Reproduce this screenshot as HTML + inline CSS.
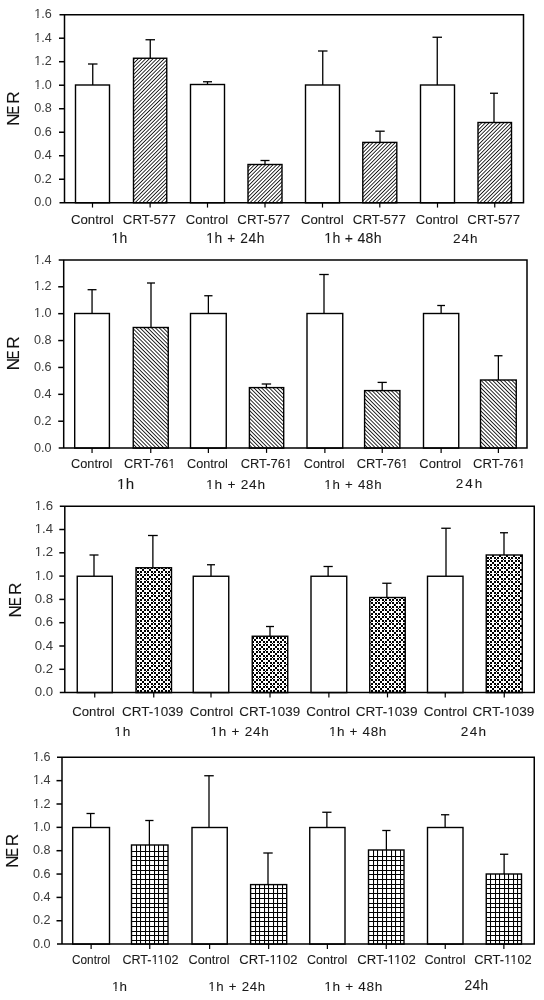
<!DOCTYPE html>
<html><head><meta charset="utf-8"><style>
html,body{margin:0;padding:0;background:#fff;width:544px;height:1000px;overflow:hidden}
svg{display:block;will-change:transform;font-family:"Liberation Sans", sans-serif}
</style></head><body>
<svg width="544" height="1000" viewBox="0 0 544 1000">
<defs>
<pattern id="p1" patternUnits="userSpaceOnUse" width="2.62" height="2.62" patternTransform="rotate(45)">
<rect x="0" y="0" width="0.8" height="2.62" fill="#000"/></pattern>
<pattern id="p2" patternUnits="userSpaceOnUse" width="2.72" height="2.72" patternTransform="rotate(-45)">
<rect x="0" y="0" width="0.82" height="2.72" fill="#000"/></pattern>
<pattern id="p3" patternUnits="userSpaceOnUse" width="7" height="7"><g fill="#000"><rect x="0" y="0" width="2" height="2"/><rect x="0" y="4" width="2" height="2"/><rect x="2" y="2" width="2" height="2"/><rect x="4" y="0" width="2" height="2"/><rect x="4" y="4" width="2" height="2"/><rect x="6" y="6" width="1" height="1"/></g></pattern>
<pattern id="p4" patternUnits="userSpaceOnUse" width="4.5" height="4.6">
<rect x="0" y="0" width="1.0" height="4.6" fill="#000"/><rect x="0" y="0" width="4.5" height="1.0" fill="#000"/></pattern>
</defs>
<rect width="544" height="1000" fill="#fff"/>
<g><line x1="92.75" y1="85" x2="92.75" y2="64" stroke="#000" stroke-width="1.3"/>
<line x1="88" y1="64" x2="97.5" y2="64" stroke="#000" stroke-width="1.3"/>
<line x1="150.25" y1="58.25" x2="150.25" y2="39.75" stroke="#000" stroke-width="1.3"/>
<line x1="145.5" y1="39.75" x2="155" y2="39.75" stroke="#000" stroke-width="1.3"/>
<line x1="207.5" y1="84.5" x2="207.5" y2="81.75" stroke="#000" stroke-width="1.3"/>
<line x1="203" y1="81.75" x2="212" y2="81.75" stroke="#000" stroke-width="1.3"/>
<line x1="265" y1="164.5" x2="265" y2="160.5" stroke="#000" stroke-width="1.3"/>
<line x1="260.5" y1="160.5" x2="269.5" y2="160.5" stroke="#000" stroke-width="1.3"/>
<line x1="322.75" y1="85" x2="322.75" y2="51" stroke="#000" stroke-width="1.3"/>
<line x1="318" y1="51" x2="327.5" y2="51" stroke="#000" stroke-width="1.3"/>
<line x1="380" y1="142.4" x2="380" y2="131.2" stroke="#000" stroke-width="1.3"/>
<line x1="375.3" y1="131.2" x2="384.7" y2="131.2" stroke="#000" stroke-width="1.3"/>
<line x1="437.25" y1="85" x2="437.25" y2="37.25" stroke="#000" stroke-width="1.3"/>
<line x1="432.5" y1="37.25" x2="442" y2="37.25" stroke="#000" stroke-width="1.3"/>
<line x1="494" y1="122.5" x2="494" y2="93.25" stroke="#000" stroke-width="1.3"/>
<line x1="490" y1="93.25" x2="498" y2="93.25" stroke="#000" stroke-width="1.3"/>
<rect x="75.5" y="85" width="34" height="117.75" fill="#fff" stroke="#000" stroke-width="1.4"/>
<line x1="92.5" y1="202.75" x2="92.5" y2="207.55" stroke="#000" stroke-width="1.2"/>
<rect x="133.5" y="58.25" width="33.25" height="144.5" fill="url(#p1)" stroke="#000" stroke-width="1.4"/>
<line x1="150.12" y1="202.75" x2="150.12" y2="207.55" stroke="#000" stroke-width="1.2"/>
<rect x="190.5" y="84.5" width="34" height="118.25" fill="#fff" stroke="#000" stroke-width="1.4"/>
<line x1="207.5" y1="202.75" x2="207.5" y2="207.55" stroke="#000" stroke-width="1.2"/>
<rect x="248" y="164.5" width="34" height="38.25" fill="url(#p1)" stroke="#000" stroke-width="1.4"/>
<line x1="265" y1="202.75" x2="265" y2="207.55" stroke="#000" stroke-width="1.2"/>
<rect x="305.5" y="85" width="34" height="117.75" fill="#fff" stroke="#000" stroke-width="1.4"/>
<line x1="322.5" y1="202.75" x2="322.5" y2="207.55" stroke="#000" stroke-width="1.2"/>
<rect x="362.8" y="142.4" width="34" height="60.35" fill="url(#p1)" stroke="#000" stroke-width="1.4"/>
<line x1="379.8" y1="202.75" x2="379.8" y2="207.55" stroke="#000" stroke-width="1.2"/>
<rect x="420.5" y="85" width="34" height="117.75" fill="#fff" stroke="#000" stroke-width="1.4"/>
<line x1="437.5" y1="202.75" x2="437.5" y2="207.55" stroke="#000" stroke-width="1.2"/>
<rect x="478" y="122.5" width="33.5" height="80.25" fill="url(#p1)" stroke="#000" stroke-width="1.4"/>
<line x1="494.75" y1="202.75" x2="494.75" y2="207.55" stroke="#000" stroke-width="1.2"/>
<path d="M59.5 14.7H523.5V202.75H59.5" fill="none" stroke="#000" stroke-width="1.5"/>
<line x1="64.5" y1="14.7" x2="64.5" y2="202.75" stroke="#000" stroke-width="1.5"/>
<text x="51.7" y="206.35" text-anchor="end" font-size="12.6" fill="#3a3a3a">0.0</text>
<line x1="59" y1="179.24" x2="64.5" y2="179.24" stroke="#000" stroke-width="1.5"/>
<text x="51.7" y="182.84" text-anchor="end" font-size="12.6" fill="#3a3a3a">0.2</text>
<line x1="59" y1="155.74" x2="64.5" y2="155.74" stroke="#000" stroke-width="1.5"/>
<text x="51.7" y="159.34" text-anchor="end" font-size="12.6" fill="#3a3a3a">0.4</text>
<line x1="59" y1="132.23" x2="64.5" y2="132.23" stroke="#000" stroke-width="1.5"/>
<text x="51.7" y="135.83" text-anchor="end" font-size="12.6" fill="#3a3a3a">0.6</text>
<line x1="59" y1="108.72" x2="64.5" y2="108.72" stroke="#000" stroke-width="1.5"/>
<text x="51.7" y="112.32" text-anchor="end" font-size="12.6" fill="#3a3a3a">0.8</text>
<line x1="59" y1="85.22" x2="64.5" y2="85.22" stroke="#000" stroke-width="1.5"/>
<text x="51.7" y="88.82" text-anchor="end" font-size="12.6" fill="#3a3a3a">1.0</text>
<line x1="59" y1="61.71" x2="64.5" y2="61.71" stroke="#000" stroke-width="1.5"/>
<text x="51.7" y="65.31" text-anchor="end" font-size="12.6" fill="#3a3a3a">1.2</text>
<line x1="59" y1="38.21" x2="64.5" y2="38.21" stroke="#000" stroke-width="1.5"/>
<text x="51.7" y="41.81" text-anchor="end" font-size="12.6" fill="#3a3a3a">1.4</text>
<text x="51.7" y="18.3" text-anchor="end" font-size="12.6" fill="#3a3a3a">1.6</text>
<text transform="translate(18.93 119.75) rotate(-90) scale(1.1 1)" text-anchor="middle" font-size="16" fill="#111" stroke="#111" stroke-width="0.1">N</text>
<text transform="translate(18.93 110.15) rotate(-90) scale(0.82 1)" text-anchor="middle" font-size="16" fill="#111" stroke="#111" stroke-width="0.1">E</text>
<text transform="translate(18.93 97.5) rotate(-90) scale(1.07 1)" text-anchor="middle" font-size="16" fill="#111" stroke="#111" stroke-width="0.1">R</text>
<text x="70.89" y="224" font-size="13.4" textLength="42.78" lengthAdjust="spacingAndGlyphs" fill="#1a1a1a" stroke="#1a1a1a" stroke-width="0.08">Control</text>
<text x="122.86" y="224" font-size="13.4" textLength="52.94" lengthAdjust="spacingAndGlyphs" fill="#1a1a1a" stroke="#1a1a1a" stroke-width="0.08">CRT-577</text>
<text x="185.73" y="224" font-size="13.4" textLength="42.4" lengthAdjust="spacingAndGlyphs" fill="#1a1a1a" stroke="#1a1a1a" stroke-width="0.08">Control</text>
<text x="237.34" y="224" font-size="13.4" textLength="52.68" lengthAdjust="spacingAndGlyphs" fill="#1a1a1a" stroke="#1a1a1a" stroke-width="0.08">CRT-577</text>
<text x="300.89" y="224" font-size="13.4" textLength="42.78" lengthAdjust="spacingAndGlyphs" fill="#1a1a1a" stroke="#1a1a1a" stroke-width="0.08">Control</text>
<text x="352.86" y="224" font-size="13.4" textLength="52.94" lengthAdjust="spacingAndGlyphs" fill="#1a1a1a" stroke="#1a1a1a" stroke-width="0.08">CRT-577</text>
<text x="415.73" y="224" font-size="13.4" textLength="42.4" lengthAdjust="spacingAndGlyphs" fill="#1a1a1a" stroke="#1a1a1a" stroke-width="0.08">Control</text>
<text x="467.34" y="224" font-size="13.4" textLength="52.68" lengthAdjust="spacingAndGlyphs" fill="#1a1a1a" stroke="#1a1a1a" stroke-width="0.08">CRT-577</text>
<text x="111.59" y="243" font-size="13.95" textLength="15.61" lengthAdjust="spacing" fill="#1a1a1a" stroke="#1a1a1a" stroke-width="0.08">1h</text>
<text x="206.3" y="243" font-size="13.8" textLength="58.17" lengthAdjust="spacing" fill="#1a1a1a" stroke="#1a1a1a" stroke-width="0.08">1h + 24h</text>
<text x="324.26" y="243" font-size="14.1" textLength="57.29" lengthAdjust="spacing" fill="#1a1a1a" stroke="#1a1a1a" stroke-width="0.08">1h + 48h</text>
<text x="453.1" y="243" font-size="13.5" textLength="24.53" lengthAdjust="spacing" fill="#1a1a1a" stroke="#1a1a1a" stroke-width="0.08">24h</text></g>
<g><line x1="92.05" y1="313.5" x2="92.05" y2="289.7" stroke="#000" stroke-width="1.3"/>
<line x1="87.6" y1="289.7" x2="96.5" y2="289.7" stroke="#000" stroke-width="1.3"/>
<line x1="151" y1="327.5" x2="151" y2="283" stroke="#000" stroke-width="1.3"/>
<line x1="147" y1="283" x2="155" y2="283" stroke="#000" stroke-width="1.3"/>
<line x1="208.38" y1="313.5" x2="208.38" y2="295.75" stroke="#000" stroke-width="1.3"/>
<line x1="204.25" y1="295.75" x2="212.5" y2="295.75" stroke="#000" stroke-width="1.3"/>
<line x1="266.4" y1="387.6" x2="266.4" y2="384" stroke="#000" stroke-width="1.3"/>
<line x1="261.7" y1="384" x2="271.1" y2="384" stroke="#000" stroke-width="1.3"/>
<line x1="324" y1="313.5" x2="324" y2="274.5" stroke="#000" stroke-width="1.3"/>
<line x1="319.25" y1="274.5" x2="328.75" y2="274.5" stroke="#000" stroke-width="1.3"/>
<line x1="382.2" y1="390.6" x2="382.2" y2="382.4" stroke="#000" stroke-width="1.3"/>
<line x1="377.6" y1="382.4" x2="386.8" y2="382.4" stroke="#000" stroke-width="1.3"/>
<line x1="441.12" y1="313.5" x2="441.12" y2="305.5" stroke="#000" stroke-width="1.3"/>
<line x1="437.25" y1="305.5" x2="445" y2="305.5" stroke="#000" stroke-width="1.3"/>
<line x1="498.38" y1="380" x2="498.38" y2="355.75" stroke="#000" stroke-width="1.3"/>
<line x1="494.25" y1="355.75" x2="502.5" y2="355.75" stroke="#000" stroke-width="1.3"/>
<rect x="74.7" y="313.5" width="34.7" height="134.6" fill="#fff" stroke="#000" stroke-width="1.4"/>
<line x1="92.05" y1="448.1" x2="92.05" y2="452.9" stroke="#000" stroke-width="1.2"/>
<rect x="133.25" y="327.5" width="35" height="120.6" fill="url(#p2)" stroke="#000" stroke-width="1.4"/>
<line x1="150.75" y1="448.1" x2="150.75" y2="452.9" stroke="#000" stroke-width="1.2"/>
<rect x="190.5" y="313.5" width="35.75" height="134.6" fill="#fff" stroke="#000" stroke-width="1.4"/>
<line x1="208.38" y1="448.1" x2="208.38" y2="452.9" stroke="#000" stroke-width="1.2"/>
<rect x="249.4" y="387.6" width="34.3" height="60.5" fill="url(#p2)" stroke="#000" stroke-width="1.4"/>
<line x1="266.55" y1="448.1" x2="266.55" y2="452.9" stroke="#000" stroke-width="1.2"/>
<rect x="307" y="313.5" width="35.75" height="134.6" fill="#fff" stroke="#000" stroke-width="1.4"/>
<line x1="324.88" y1="448.1" x2="324.88" y2="452.9" stroke="#000" stroke-width="1.2"/>
<rect x="364.6" y="390.6" width="35.3" height="57.5" fill="url(#p2)" stroke="#000" stroke-width="1.4"/>
<line x1="382.25" y1="448.1" x2="382.25" y2="452.9" stroke="#000" stroke-width="1.2"/>
<rect x="423.5" y="313.5" width="35.25" height="134.6" fill="#fff" stroke="#000" stroke-width="1.4"/>
<line x1="441.12" y1="448.1" x2="441.12" y2="452.9" stroke="#000" stroke-width="1.2"/>
<rect x="480.5" y="380" width="35.75" height="68.1" fill="url(#p2)" stroke="#000" stroke-width="1.4"/>
<line x1="498.38" y1="448.1" x2="498.38" y2="452.9" stroke="#000" stroke-width="1.2"/>
<path d="M58.7 259.9H527V448.1H58.7" fill="none" stroke="#000" stroke-width="1.5"/>
<line x1="63.7" y1="259.9" x2="63.7" y2="448.1" stroke="#000" stroke-width="1.5"/>
<text x="51.4" y="451.7" text-anchor="end" font-size="12.6" fill="#3a3a3a">0.0</text>
<line x1="58.2" y1="421.21" x2="63.7" y2="421.21" stroke="#000" stroke-width="1.5"/>
<text x="51.4" y="424.81" text-anchor="end" font-size="12.6" fill="#3a3a3a">0.2</text>
<line x1="58.2" y1="394.33" x2="63.7" y2="394.33" stroke="#000" stroke-width="1.5"/>
<text x="51.4" y="397.93" text-anchor="end" font-size="12.6" fill="#3a3a3a">0.4</text>
<line x1="58.2" y1="367.44" x2="63.7" y2="367.44" stroke="#000" stroke-width="1.5"/>
<text x="51.4" y="371.04" text-anchor="end" font-size="12.6" fill="#3a3a3a">0.6</text>
<line x1="58.2" y1="340.56" x2="63.7" y2="340.56" stroke="#000" stroke-width="1.5"/>
<text x="51.4" y="344.16" text-anchor="end" font-size="12.6" fill="#3a3a3a">0.8</text>
<line x1="58.2" y1="313.67" x2="63.7" y2="313.67" stroke="#000" stroke-width="1.5"/>
<text x="51.4" y="317.27" text-anchor="end" font-size="12.6" fill="#3a3a3a">1.0</text>
<line x1="58.2" y1="286.79" x2="63.7" y2="286.79" stroke="#000" stroke-width="1.5"/>
<text x="51.4" y="290.39" text-anchor="end" font-size="12.6" fill="#3a3a3a">1.2</text>
<text x="51.4" y="263.5" text-anchor="end" font-size="12.6" fill="#3a3a3a">1.4</text>
<text transform="translate(19.15 364.11) rotate(-90) scale(1.1 1)" text-anchor="middle" font-size="16" fill="#111" stroke="#111" stroke-width="0.1">N</text>
<text transform="translate(19.15 354.8) rotate(-90) scale(0.82 1)" text-anchor="middle" font-size="16" fill="#111" stroke="#111" stroke-width="0.1">E</text>
<text transform="translate(19.15 342.54) rotate(-90) scale(1.07 1)" text-anchor="middle" font-size="16" fill="#111" stroke="#111" stroke-width="0.1">R</text>
<text x="71.05" y="468" font-size="13.4" textLength="41.18" lengthAdjust="spacingAndGlyphs" fill="#1a1a1a" stroke="#1a1a1a" stroke-width="0.08">Control</text>
<text x="124.04" y="468" font-size="13.4" textLength="51.47" lengthAdjust="spacingAndGlyphs" fill="#1a1a1a" stroke="#1a1a1a" stroke-width="0.08">CRT-761</text>
<text x="187.11" y="468" font-size="13.4" textLength="40.79" lengthAdjust="spacingAndGlyphs" fill="#1a1a1a" stroke="#1a1a1a" stroke-width="0.08">Control</text>
<text x="240.71" y="468" font-size="13.4" textLength="51.44" lengthAdjust="spacingAndGlyphs" fill="#1a1a1a" stroke="#1a1a1a" stroke-width="0.08">CRT-761</text>
<text x="303.79" y="468" font-size="13.4" textLength="40.75" lengthAdjust="spacingAndGlyphs" fill="#1a1a1a" stroke="#1a1a1a" stroke-width="0.08">Control</text>
<text x="356.72" y="468" font-size="13.4" textLength="51.58" lengthAdjust="spacingAndGlyphs" fill="#1a1a1a" stroke="#1a1a1a" stroke-width="0.08">CRT-761</text>
<text x="419.35" y="468" font-size="13.4" textLength="41.91" lengthAdjust="spacingAndGlyphs" fill="#1a1a1a" stroke="#1a1a1a" stroke-width="0.08">Control</text>
<text x="472.97" y="468" font-size="13.4" textLength="52.23" lengthAdjust="spacingAndGlyphs" fill="#1a1a1a" stroke="#1a1a1a" stroke-width="0.08">CRT-761</text>
<text x="116.9" y="489" font-size="15.1" textLength="17.35" lengthAdjust="spacing" fill="#1a1a1a" stroke="#1a1a1a" stroke-width="0.08">1h</text>
<text x="206.07" y="489" font-size="13.7" textLength="59.02" lengthAdjust="spacing" fill="#1a1a1a" stroke="#1a1a1a" stroke-width="0.08">1h + 24h</text>
<text x="324.24" y="489" font-size="13.25" textLength="57.32" lengthAdjust="spacing" fill="#1a1a1a" stroke="#1a1a1a" stroke-width="0.08">1h + 48h</text>
<text x="455.87" y="488" font-size="13.5" textLength="26.38" lengthAdjust="spacing" fill="#1a1a1a" stroke="#1a1a1a" stroke-width="0.08">24h</text></g>
<g><line x1="94" y1="576.25" x2="94" y2="555" stroke="#000" stroke-width="1.3"/>
<line x1="89.5" y1="555" x2="98.5" y2="555" stroke="#000" stroke-width="1.3"/>
<line x1="152.88" y1="567.75" x2="152.88" y2="535.5" stroke="#000" stroke-width="1.3"/>
<line x1="148" y1="535.5" x2="157.75" y2="535.5" stroke="#000" stroke-width="1.3"/>
<line x1="211" y1="576.25" x2="211" y2="564.75" stroke="#000" stroke-width="1.3"/>
<line x1="207" y1="564.75" x2="215" y2="564.75" stroke="#000" stroke-width="1.3"/>
<line x1="270" y1="636.25" x2="270" y2="626.5" stroke="#000" stroke-width="1.3"/>
<line x1="266" y1="626.5" x2="274" y2="626.5" stroke="#000" stroke-width="1.3"/>
<line x1="328.12" y1="576.25" x2="328.12" y2="566.5" stroke="#000" stroke-width="1.3"/>
<line x1="323.5" y1="566.5" x2="332.75" y2="566.5" stroke="#000" stroke-width="1.3"/>
<line x1="386.88" y1="597.5" x2="386.88" y2="583.25" stroke="#000" stroke-width="1.3"/>
<line x1="382.25" y1="583.25" x2="391.5" y2="583.25" stroke="#000" stroke-width="1.3"/>
<line x1="446" y1="576.25" x2="446" y2="528.25" stroke="#000" stroke-width="1.3"/>
<line x1="441.25" y1="528.25" x2="450.75" y2="528.25" stroke="#000" stroke-width="1.3"/>
<line x1="504" y1="555" x2="504" y2="532.75" stroke="#000" stroke-width="1.3"/>
<line x1="500" y1="532.75" x2="508" y2="532.75" stroke="#000" stroke-width="1.3"/>
<rect x="77.25" y="576.25" width="35" height="116.35" fill="#fff" stroke="#000" stroke-width="1.4"/>
<line x1="94.75" y1="692.6" x2="94.75" y2="697.4" stroke="#000" stroke-width="1.2"/>
<rect x="136" y="567.75" width="35.5" height="124.85" fill="url(#p3)" stroke="#000" stroke-width="1.4"/>
<line x1="153.75" y1="692.6" x2="153.75" y2="697.4" stroke="#000" stroke-width="1.2"/>
<rect x="193.25" y="576.25" width="35.5" height="116.35" fill="#fff" stroke="#000" stroke-width="1.4"/>
<line x1="211" y1="692.6" x2="211" y2="697.4" stroke="#000" stroke-width="1.2"/>
<rect x="252.25" y="636.25" width="35.5" height="56.35" fill="url(#p3)" stroke="#000" stroke-width="1.4"/>
<line x1="270" y1="692.6" x2="270" y2="697.4" stroke="#000" stroke-width="1.2"/>
<rect x="311" y="576.25" width="35.75" height="116.35" fill="#fff" stroke="#000" stroke-width="1.4"/>
<line x1="328.88" y1="692.6" x2="328.88" y2="697.4" stroke="#000" stroke-width="1.2"/>
<rect x="369.75" y="597.5" width="35.5" height="95.1" fill="url(#p3)" stroke="#000" stroke-width="1.4"/>
<line x1="387.5" y1="692.6" x2="387.5" y2="697.4" stroke="#000" stroke-width="1.2"/>
<rect x="427.5" y="576.25" width="35.5" height="116.35" fill="#fff" stroke="#000" stroke-width="1.4"/>
<line x1="445.25" y1="692.6" x2="445.25" y2="697.4" stroke="#000" stroke-width="1.2"/>
<rect x="486.25" y="555" width="36" height="137.6" fill="url(#p3)" stroke="#000" stroke-width="1.4"/>
<line x1="504.25" y1="692.6" x2="504.25" y2="697.4" stroke="#000" stroke-width="1.2"/>
<path d="M59.8 506.2H534.25V692.6H59.8" fill="none" stroke="#000" stroke-width="1.5"/>
<line x1="64.8" y1="506.2" x2="64.8" y2="692.6" stroke="#000" stroke-width="1.5"/>
<text x="53" y="696.2" text-anchor="end" font-size="13.2" fill="#3a3a3a">0.0</text>
<line x1="59.3" y1="669.3" x2="64.8" y2="669.3" stroke="#000" stroke-width="1.5"/>
<text x="53" y="672.9" text-anchor="end" font-size="13.2" fill="#3a3a3a">0.2</text>
<line x1="59.3" y1="646" x2="64.8" y2="646" stroke="#000" stroke-width="1.5"/>
<text x="53" y="649.6" text-anchor="end" font-size="13.2" fill="#3a3a3a">0.4</text>
<line x1="59.3" y1="622.7" x2="64.8" y2="622.7" stroke="#000" stroke-width="1.5"/>
<text x="53" y="626.3" text-anchor="end" font-size="13.2" fill="#3a3a3a">0.6</text>
<line x1="59.3" y1="599.4" x2="64.8" y2="599.4" stroke="#000" stroke-width="1.5"/>
<text x="53" y="603" text-anchor="end" font-size="13.2" fill="#3a3a3a">0.8</text>
<line x1="59.3" y1="576.1" x2="64.8" y2="576.1" stroke="#000" stroke-width="1.5"/>
<text x="53" y="579.7" text-anchor="end" font-size="13.2" fill="#3a3a3a">1.0</text>
<line x1="59.3" y1="552.8" x2="64.8" y2="552.8" stroke="#000" stroke-width="1.5"/>
<text x="53" y="556.4" text-anchor="end" font-size="13.2" fill="#3a3a3a">1.2</text>
<line x1="59.3" y1="529.5" x2="64.8" y2="529.5" stroke="#000" stroke-width="1.5"/>
<text x="53" y="533.1" text-anchor="end" font-size="13.2" fill="#3a3a3a">1.4</text>
<text x="53" y="509.8" text-anchor="end" font-size="13.2" fill="#3a3a3a">1.6</text>
<text transform="translate(20.55 611.29) rotate(-90) scale(1.1 1)" text-anchor="middle" font-size="16" fill="#111" stroke="#111" stroke-width="0.1">N</text>
<text transform="translate(20.55 601.57) rotate(-90) scale(0.82 1)" text-anchor="middle" font-size="16" fill="#111" stroke="#111" stroke-width="0.1">E</text>
<text transform="translate(20.55 588.76) rotate(-90) scale(1.07 1)" text-anchor="middle" font-size="16" fill="#111" stroke="#111" stroke-width="0.1">R</text>
<text x="72.27" y="716" font-size="13.7" textLength="42.46" lengthAdjust="spacingAndGlyphs" fill="#1a1a1a" stroke="#1a1a1a" stroke-width="0.08">Control</text>
<text x="121.93" y="716" font-size="13.7" textLength="61.25" lengthAdjust="spacingAndGlyphs" fill="#1a1a1a" stroke="#1a1a1a" stroke-width="0.08">CRT-1039</text>
<text x="189.78" y="716" font-size="13.7" textLength="43.48" lengthAdjust="spacingAndGlyphs" fill="#1a1a1a" stroke="#1a1a1a" stroke-width="0.08">Control</text>
<text x="239.33" y="716" font-size="13.7" textLength="60.83" lengthAdjust="spacingAndGlyphs" fill="#1a1a1a" stroke="#1a1a1a" stroke-width="0.08">CRT-1039</text>
<text x="306.35" y="716" font-size="13.7" textLength="43.54" lengthAdjust="spacingAndGlyphs" fill="#1a1a1a" stroke="#1a1a1a" stroke-width="0.08">Control</text>
<text x="355.72" y="716" font-size="13.7" textLength="61.75" lengthAdjust="spacingAndGlyphs" fill="#1a1a1a" stroke="#1a1a1a" stroke-width="0.08">CRT-1039</text>
<text x="423.73" y="716" font-size="13.7" textLength="43.6" lengthAdjust="spacingAndGlyphs" fill="#1a1a1a" stroke="#1a1a1a" stroke-width="0.08">Control</text>
<text x="472.47" y="716" font-size="13.7" textLength="61.83" lengthAdjust="spacingAndGlyphs" fill="#1a1a1a" stroke="#1a1a1a" stroke-width="0.08">CRT-1039</text>
<text x="114.31" y="736" font-size="13.65" textLength="16.02" lengthAdjust="spacing" fill="#1a1a1a" stroke="#1a1a1a" stroke-width="0.08">1h</text>
<text x="210.51" y="736" font-size="13.5" textLength="58.36" lengthAdjust="spacing" fill="#1a1a1a" stroke="#1a1a1a" stroke-width="0.08">1h + 24h</text>
<text x="328.88" y="736" font-size="13.5" textLength="57.43" lengthAdjust="spacing" fill="#1a1a1a" stroke="#1a1a1a" stroke-width="0.08">1h + 48h</text>
<text x="460.77" y="736" font-size="13.6" textLength="25.3" lengthAdjust="spacing" fill="#1a1a1a" stroke="#1a1a1a" stroke-width="0.08">24h</text></g>
<g><line x1="90.62" y1="827.5" x2="90.62" y2="813.5" stroke="#000" stroke-width="1.3"/>
<line x1="86.5" y1="813.5" x2="94.75" y2="813.5" stroke="#000" stroke-width="1.3"/>
<line x1="149.38" y1="845" x2="149.38" y2="820.5" stroke="#000" stroke-width="1.3"/>
<line x1="145.25" y1="820.5" x2="153.5" y2="820.5" stroke="#000" stroke-width="1.3"/>
<line x1="209" y1="827.5" x2="209" y2="775.75" stroke="#000" stroke-width="1.3"/>
<line x1="204.25" y1="775.75" x2="213.75" y2="775.75" stroke="#000" stroke-width="1.3"/>
<line x1="268" y1="884.6" x2="268" y2="853" stroke="#000" stroke-width="1.3"/>
<line x1="263.3" y1="853" x2="272.7" y2="853" stroke="#000" stroke-width="1.3"/>
<line x1="326.88" y1="827.5" x2="326.88" y2="812.25" stroke="#000" stroke-width="1.3"/>
<line x1="322.25" y1="812.25" x2="331.5" y2="812.25" stroke="#000" stroke-width="1.3"/>
<line x1="386.38" y1="850" x2="386.38" y2="830.5" stroke="#000" stroke-width="1.3"/>
<line x1="382.25" y1="830.5" x2="390.5" y2="830.5" stroke="#000" stroke-width="1.3"/>
<line x1="445.12" y1="827.5" x2="445.12" y2="814.75" stroke="#000" stroke-width="1.3"/>
<line x1="441" y1="814.75" x2="449.25" y2="814.75" stroke="#000" stroke-width="1.3"/>
<line x1="504.12" y1="874" x2="504.12" y2="854.25" stroke="#000" stroke-width="1.3"/>
<line x1="500" y1="854.25" x2="508.25" y2="854.25" stroke="#000" stroke-width="1.3"/>
<rect x="72.75" y="827.5" width="36.75" height="116.6" fill="#fff" stroke="#000" stroke-width="1.4"/>
<line x1="91.12" y1="944.1" x2="91.12" y2="948.9" stroke="#000" stroke-width="1.2"/>
<rect x="131.5" y="845" width="36.5" height="99.1" fill="#fff"/>
<path d="M136 845h1.05v99.1h-1.05zM140 845h1.05v99.1h-1.05zM145 845h1.05v99.1h-1.05zM149 845h1.05v99.1h-1.05zM154 845h1.05v99.1h-1.05zM158 845h1.05v99.1h-1.05zM163 845h1.05v99.1h-1.05zM131.5 851h36.5v1.05h-36.5zM131.5 856h36.5v1.05h-36.5zM131.5 860h36.5v1.05h-36.5zM131.5 865h36.5v1.05h-36.5zM131.5 870h36.5v1.05h-36.5zM131.5 874h36.5v1.05h-36.5zM131.5 879h36.5v1.05h-36.5zM131.5 884h36.5v1.05h-36.5zM131.5 888h36.5v1.05h-36.5zM131.5 893h36.5v1.05h-36.5zM131.5 898h36.5v1.05h-36.5zM131.5 903h36.5v1.05h-36.5zM131.5 907h36.5v1.05h-36.5zM131.5 912h36.5v1.05h-36.5zM131.5 917h36.5v1.05h-36.5zM131.5 921h36.5v1.05h-36.5zM131.5 926h36.5v1.05h-36.5zM131.5 931h36.5v1.05h-36.5zM131.5 935h36.5v1.05h-36.5zM131.5 940h36.5v1.05h-36.5z" fill="#000"/>
<rect x="131.5" y="845" width="36.5" height="99.1" fill="none" stroke="#000" stroke-width="1.4"/>
<line x1="149.75" y1="944.1" x2="149.75" y2="948.9" stroke="#000" stroke-width="1.2"/>
<rect x="192" y="827.5" width="35.25" height="116.6" fill="#fff" stroke="#000" stroke-width="1.4"/>
<line x1="209.62" y1="944.1" x2="209.62" y2="948.9" stroke="#000" stroke-width="1.2"/>
<rect x="250.6" y="884.6" width="36.1" height="59.5" fill="#fff"/>
<path d="M255 884.6h1.05v59.5h-1.05zM259 884.6h1.05v59.5h-1.05zM264 884.6h1.05v59.5h-1.05zM268 884.6h1.05v59.5h-1.05zM273 884.6h1.05v59.5h-1.05zM277 884.6h1.05v59.5h-1.05zM282 884.6h1.05v59.5h-1.05zM250.6 888h36.1v1.05h-36.1zM250.6 893h36.1v1.05h-36.1zM250.6 898h36.1v1.05h-36.1zM250.6 903h36.1v1.05h-36.1zM250.6 907h36.1v1.05h-36.1zM250.6 912h36.1v1.05h-36.1zM250.6 917h36.1v1.05h-36.1zM250.6 921h36.1v1.05h-36.1zM250.6 926h36.1v1.05h-36.1zM250.6 931h36.1v1.05h-36.1zM250.6 935h36.1v1.05h-36.1zM250.6 940h36.1v1.05h-36.1z" fill="#000"/>
<rect x="250.6" y="884.6" width="36.1" height="59.5" fill="none" stroke="#000" stroke-width="1.4"/>
<line x1="268.65" y1="944.1" x2="268.65" y2="948.9" stroke="#000" stroke-width="1.2"/>
<rect x="309.75" y="827.5" width="35.25" height="116.6" fill="#fff" stroke="#000" stroke-width="1.4"/>
<line x1="327.38" y1="944.1" x2="327.38" y2="948.9" stroke="#000" stroke-width="1.2"/>
<rect x="368.5" y="850" width="35.5" height="94.1" fill="#fff"/>
<path d="M373 850h1.05v94.1h-1.05zM377 850h1.05v94.1h-1.05zM382 850h1.05v94.1h-1.05zM386 850h1.05v94.1h-1.05zM391 850h1.05v94.1h-1.05zM395 850h1.05v94.1h-1.05zM400 850h1.05v94.1h-1.05zM368.5 856h35.5v1.05h-35.5zM368.5 860h35.5v1.05h-35.5zM368.5 865h35.5v1.05h-35.5zM368.5 870h35.5v1.05h-35.5zM368.5 874h35.5v1.05h-35.5zM368.5 879h35.5v1.05h-35.5zM368.5 884h35.5v1.05h-35.5zM368.5 888h35.5v1.05h-35.5zM368.5 893h35.5v1.05h-35.5zM368.5 898h35.5v1.05h-35.5zM368.5 903h35.5v1.05h-35.5zM368.5 907h35.5v1.05h-35.5zM368.5 912h35.5v1.05h-35.5zM368.5 917h35.5v1.05h-35.5zM368.5 921h35.5v1.05h-35.5zM368.5 926h35.5v1.05h-35.5zM368.5 931h35.5v1.05h-35.5zM368.5 935h35.5v1.05h-35.5zM368.5 940h35.5v1.05h-35.5z" fill="#000"/>
<rect x="368.5" y="850" width="35.5" height="94.1" fill="none" stroke="#000" stroke-width="1.4"/>
<line x1="386.25" y1="944.1" x2="386.25" y2="948.9" stroke="#000" stroke-width="1.2"/>
<rect x="427.5" y="827.5" width="35.5" height="116.6" fill="#fff" stroke="#000" stroke-width="1.4"/>
<line x1="445.25" y1="944.1" x2="445.25" y2="948.9" stroke="#000" stroke-width="1.2"/>
<rect x="486.25" y="874" width="35.25" height="70.1" fill="#fff"/>
<path d="M490 874h1.05v70.1h-1.05zM495 874h1.05v70.1h-1.05zM499 874h1.05v70.1h-1.05zM504 874h1.05v70.1h-1.05zM508 874h1.05v70.1h-1.05zM513 874h1.05v70.1h-1.05zM517 874h1.05v70.1h-1.05zM486.25 879h35.25v1.05h-35.25zM486.25 884h35.25v1.05h-35.25zM486.25 888h35.25v1.05h-35.25zM486.25 893h35.25v1.05h-35.25zM486.25 898h35.25v1.05h-35.25zM486.25 903h35.25v1.05h-35.25zM486.25 907h35.25v1.05h-35.25zM486.25 912h35.25v1.05h-35.25zM486.25 917h35.25v1.05h-35.25zM486.25 921h35.25v1.05h-35.25zM486.25 926h35.25v1.05h-35.25zM486.25 931h35.25v1.05h-35.25zM486.25 935h35.25v1.05h-35.25zM486.25 940h35.25v1.05h-35.25z" fill="#000"/>
<rect x="486.25" y="874" width="35.25" height="70.1" fill="none" stroke="#000" stroke-width="1.4"/>
<line x1="503.88" y1="944.1" x2="503.88" y2="948.9" stroke="#000" stroke-width="1.2"/>
<path d="M57 757.3H534.25V944.1H57" fill="none" stroke="#000" stroke-width="1.5"/>
<line x1="62" y1="757.3" x2="62" y2="944.1" stroke="#000" stroke-width="1.5"/>
<text x="50.4" y="947.7" text-anchor="end" font-size="12.6" fill="#3a3a3a">0.0</text>
<line x1="56.5" y1="920.75" x2="62" y2="920.75" stroke="#000" stroke-width="1.5"/>
<text x="50.4" y="924.35" text-anchor="end" font-size="12.6" fill="#3a3a3a">0.2</text>
<line x1="56.5" y1="897.4" x2="62" y2="897.4" stroke="#000" stroke-width="1.5"/>
<text x="50.4" y="901" text-anchor="end" font-size="12.6" fill="#3a3a3a">0.4</text>
<line x1="56.5" y1="874.05" x2="62" y2="874.05" stroke="#000" stroke-width="1.5"/>
<text x="50.4" y="877.65" text-anchor="end" font-size="12.6" fill="#3a3a3a">0.6</text>
<line x1="56.5" y1="850.7" x2="62" y2="850.7" stroke="#000" stroke-width="1.5"/>
<text x="50.4" y="854.3" text-anchor="end" font-size="12.6" fill="#3a3a3a">0.8</text>
<line x1="56.5" y1="827.35" x2="62" y2="827.35" stroke="#000" stroke-width="1.5"/>
<text x="50.4" y="830.95" text-anchor="end" font-size="12.6" fill="#3a3a3a">1.0</text>
<line x1="56.5" y1="804" x2="62" y2="804" stroke="#000" stroke-width="1.5"/>
<text x="50.4" y="807.6" text-anchor="end" font-size="12.6" fill="#3a3a3a">1.2</text>
<line x1="56.5" y1="780.65" x2="62" y2="780.65" stroke="#000" stroke-width="1.5"/>
<text x="50.4" y="784.25" text-anchor="end" font-size="12.6" fill="#3a3a3a">1.4</text>
<text x="50.4" y="760.9" text-anchor="end" font-size="12.6" fill="#3a3a3a">1.6</text>
<text transform="translate(17.95 861.54) rotate(-90) scale(1.1 1)" text-anchor="middle" font-size="16" fill="#111" stroke="#111" stroke-width="0.1">N</text>
<text transform="translate(17.95 852.29) rotate(-90) scale(0.82 1)" text-anchor="middle" font-size="16" fill="#111" stroke="#111" stroke-width="0.1">E</text>
<text transform="translate(17.95 840.11) rotate(-90) scale(1.07 1)" text-anchor="middle" font-size="16" fill="#111" stroke="#111" stroke-width="0.1">R</text>
<text x="72.03" y="964" font-size="13.4" textLength="38.06" lengthAdjust="spacingAndGlyphs" fill="#1a1a1a" stroke="#1a1a1a" stroke-width="0.08">Control</text>
<text x="122.4" y="964" font-size="13.4" textLength="56.24" lengthAdjust="spacingAndGlyphs" fill="#1a1a1a" stroke="#1a1a1a" stroke-width="0.08">CRT-1102</text>
<text x="188.51" y="964" font-size="13.4" textLength="40.99" lengthAdjust="spacingAndGlyphs" fill="#1a1a1a" stroke="#1a1a1a" stroke-width="0.08">Control</text>
<text x="239.22" y="964" font-size="13.4" textLength="58.28" lengthAdjust="spacingAndGlyphs" fill="#1a1a1a" stroke="#1a1a1a" stroke-width="0.08">CRT-1102</text>
<text x="306.94" y="964" font-size="13.4" textLength="40.32" lengthAdjust="spacingAndGlyphs" fill="#1a1a1a" stroke="#1a1a1a" stroke-width="0.08">Control</text>
<text x="357.21" y="964" font-size="13.4" textLength="58.67" lengthAdjust="spacingAndGlyphs" fill="#1a1a1a" stroke="#1a1a1a" stroke-width="0.08">CRT-1102</text>
<text x="424.39" y="964" font-size="13.4" textLength="41.11" lengthAdjust="spacingAndGlyphs" fill="#1a1a1a" stroke="#1a1a1a" stroke-width="0.08">Control</text>
<text x="474.22" y="964" font-size="13.4" textLength="57.52" lengthAdjust="spacingAndGlyphs" fill="#1a1a1a" stroke="#1a1a1a" stroke-width="0.08">CRT-1102</text>
<text x="111.94" y="991" font-size="13.4" textLength="15.08" lengthAdjust="spacing" fill="#1a1a1a" stroke="#1a1a1a" stroke-width="0.08">1h</text>
<text x="208.16" y="991" font-size="13.25" textLength="57.08" lengthAdjust="spacing" fill="#1a1a1a" stroke="#1a1a1a" stroke-width="0.08">1h + 24h</text>
<text x="324.31" y="991" font-size="13.65" textLength="57.95" lengthAdjust="spacing" fill="#1a1a1a" stroke="#1a1a1a" stroke-width="0.08">1h + 48h</text>
<text x="464.56" y="990" font-size="13.75" textLength="23.59" lengthAdjust="spacing" fill="#1a1a1a" stroke="#1a1a1a" stroke-width="0.08">24h</text></g>
<path d="M34.40 86.98H37.30V89.97H34.40zM38.52 86.98H41.16V89.97H38.52zM34.40 63.47H37.30V66.46H34.40zM38.52 63.47H41.16V66.46H38.52zM34.40 39.97H37.30V42.96H34.40zM38.52 39.97H41.16V42.96H38.52zM34.40 16.46H37.30V19.45H34.40zM38.52 16.46H41.16V19.45H38.52zM111.81 241.06H115.05V244.19H111.81zM116.38 241.06H119.34V244.19H116.38zM206.51 241.07H209.72V244.19H206.51zM211.04 241.07H213.97V244.19H211.04zM324.48 241.05H327.76V244.19H324.48zM329.10 241.05H332.09V244.19H329.10zM34.10 315.43H37.00V318.42H34.10zM38.22 315.43H40.86V318.42H38.22zM34.10 288.55H37.00V291.54H34.10zM38.22 288.55H40.86V291.54H38.22zM34.10 261.66H37.00V264.65H34.10zM38.22 261.66H40.86V264.65H38.22zM168.51 466.10H171.52V469.19H168.51zM172.76 466.10H175.52V469.19H172.76zM285.15 466.10H288.16V469.19H285.15zM289.40 466.10H292.16V469.19H289.40zM401.28 466.10H404.30V469.19H401.28zM405.55 466.10H408.31V469.19H405.55zM518.10 466.10H521.15V469.19H518.10zM522.41 466.10H525.20V469.19H522.41zM117.15 486.97H120.65V490.19H117.15zM122.08 486.97H125.27V490.19H122.08zM206.28 487.08H209.47V490.19H206.28zM210.78 487.08H213.69V490.19H210.78zM324.44 487.11H327.52V490.19H324.44zM328.79 487.11H331.61V490.19H328.79zM34.89 577.81H37.93V580.85H34.89zM39.19 577.81H41.96V580.85H39.19zM34.89 554.51H37.93V557.55H34.89zM39.19 554.51H41.96V557.55H39.19zM34.89 531.21H37.93V534.25H34.89zM39.19 531.21H41.96V534.25H39.19zM34.89 507.91H37.93V510.95H34.89zM39.19 507.91H41.96V510.95H39.19zM153.35 714.08H156.49V717.19H153.35zM157.79 714.08H160.66V717.19H157.79zM270.54 714.08H273.66V717.19H270.54zM274.94 714.08H277.79V717.19H274.94zM387.40 714.08H390.57V717.19H387.40zM391.87 714.08H394.76V717.19H391.87zM504.19 714.08H507.36V717.19H504.19zM508.67 714.08H511.56V717.19H508.67zM114.52 734.08H117.69V737.19H114.52zM119.00 734.08H121.90V737.19H119.00zM210.72 734.09H213.85V737.19H210.72zM215.15 734.09H218.02V737.19H215.15zM329.09 734.09H332.22V737.19H329.09zM333.52 734.09H336.39V737.19H333.52zM33.10 829.11H36.00V832.10H33.10zM37.22 829.11H39.86V832.10H37.22zM33.10 805.76H36.00V808.75H33.10zM37.22 805.76H39.86V808.75H37.22zM33.10 782.41H36.00V785.40H33.10zM37.22 782.41H39.86V785.40H37.22zM33.10 759.06H36.00V762.05H33.10zM37.22 759.06H39.86V762.05H37.22zM151.72 962.10H154.66V965.19H151.72zM155.87 962.10H158.56V965.19H155.87zM157.79 962.10H160.73V965.19H157.79zM161.94 962.10H164.63V965.19H161.94zM269.61 962.10H272.65V965.19H269.61zM273.91 962.10H276.69V965.19H273.91zM275.90 962.10H278.94V965.19H275.90zM280.20 962.10H282.98V965.19H280.20zM387.81 962.10H390.87V965.19H387.81zM392.13 962.10H394.93V965.19H392.13zM394.14 962.10H397.20V965.19H394.14zM398.46 962.10H401.26V965.19H398.46zM504.21 962.10H507.22V965.19H504.21zM508.46 962.10H511.20V965.19H508.46zM510.42 962.10H513.42V965.19H510.42zM514.66 962.10H517.41V965.19H514.66zM112.14 989.10H115.26V992.19H112.14zM116.54 989.10H119.39V992.19H116.54zM208.36 989.11H211.44V992.19H208.36zM212.71 989.11H215.53V992.19H212.71zM324.52 989.08H327.69V992.19H324.52zM329.00 989.08H331.90V992.19H329.00z" fill="#fff"/>
</svg>
</body></html>
